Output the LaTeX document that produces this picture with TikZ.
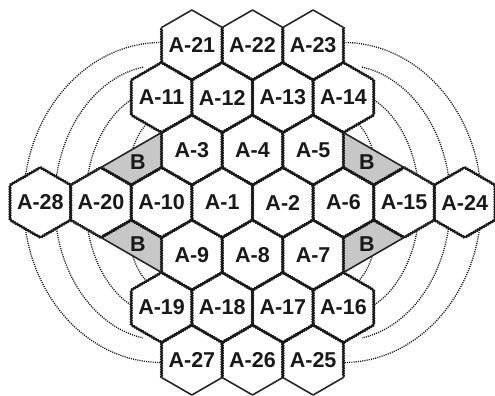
\documentclass[tikz,border=0pt]{standalone}
\usepackage{fontspec}
\setmainfont{Liberation Sans}
\usetikzlibrary{decorations.pathmorphing}
\tikzset{
  zig/.style={draw=black!90, line width=1.7pt, line join=round, decorate,
    decoration={zigzag, segment length=2.5pt, amplitude=0.8pt}},
  plainedge/.style={draw=black!85, line width=1.6pt, line join=round},
  orbit/.style={draw=black!90, line width=1.3pt, dash pattern=on 1.1pt off 1.1pt},
  lab/.style={font=\fontsize{21.5}{21.5}\selectfont\bfseries, inner sep=0pt, text=black!90},
  bfill/.style={fill=black!22},
  hexfill/.pic={\fill[white] (90:35) -- (30:35) -- (-30:35) -- (-90:35) -- (-150:35) -- (150:35) -- cycle;},
  hexline/.pic={\path[zig] (90:35) -- (30:35) -- (-30:35) -- (-90:35) -- (-150:35) -- (150:35) -- cycle;},
  hextop/.pic={\path[zig] (30:35) -- (-30:35) -- (-90:35) -- (-150:35) -- (150:35);
               \path[plainedge] (150:35) -- (90:35) -- (30:35);},
  hexbot/.pic={\path[zig] (-150:35) -- (150:35) -- (90:35) -- (30:35) -- (-30:35);
               \path[plainedge] (-30:35) -- (-90:35) -- (-150:35);},
}
\begin{document}
\begin{tikzpicture}[x=1pt,y=1pt]
\useasboundingbox (-252.5,-193.5) rectangle (242.5,202.5);

% dotted orbits (drawn first, hidden by the cells)
\draw[orbit] (-90.93,0) ++(90:138 and 160) arc[start angle=90, end angle=270, x radius=138, y radius=160];
\draw[orbit] (-90.93,0) ++(100:107 and 137.5) arc[start angle=100, end angle=260, x radius=107, y radius=137.5];
\draw[orbit] (-90.93,0) ++(90:76 and 112) arc[start angle=90, end angle=270, x radius=76, y radius=112];
\draw[orbit] (-90.93,0) ++(90:37 and 86) arc[start angle=90, end angle=270, x radius=37, y radius=86];
\draw[orbit] (90.93,0) ++(90:138 and 160) arc[start angle=90, end angle=-90, x radius=138, y radius=160];
\draw[orbit] (90.93,0) ++(80:107 and 137.5) arc[start angle=80, end angle=-80, x radius=107, y radius=137.5];
\draw[orbit] (90.93,0) ++(90:76 and 112) arc[start angle=90, end angle=-90, x radius=76, y radius=112];
\draw[orbit] (90.93,0) ++(90:37 and 86) arc[start angle=90, end angle=-90, x radius=37, y radius=86];

% cell fills
\foreach \i/\j in {-7/0,-5/0,-3/0,-1/0,1/0,3/0,5/0,7/0,
                   -2/1,0/1,2/1,-3/2,-1/2,1/2,3/2,-2/3,0/3,2/3,
                   -2/-1,0/-1,2/-1,-3/-2,-1/-2,1/-2,3/-2,-2/-3,0/-3,2/-3}
  \pic at (\i*30.31,\j*52.5) {hexfill};

% B regions
\foreach \sx/\sy in {1/1,-1/1,1/-1,-1/-1}{
  \fill[bfill] (\sx*-90.93,\sy*70) -- (\sx*-90.93,\sy*35) -- (\sx*-121.24,\sy*17.5) -- (\sx*-151.55,\sy*35) -- cycle;
}

% cell outlines
\foreach \i/\j in {-7/0,-5/0,-3/0,-1/0,1/0,3/0,5/0,7/0,
                   -2/1,0/1,2/1,-3/2,-1/2,1/2,3/2,
                   -2/-1,0/-1,2/-1,-3/-2,-1/-2,1/-2,3/-2}
  \pic at (\i*30.31,\j*52.5) {hexline};
\foreach \i in {-2,0,2}{
  \pic at (\i*30.31,3*52.5) {hextop};
  \pic at (\i*30.31,-3*52.5) {hexbot};
}
\foreach \sx/\sy in {1/1,-1/1,1/-1,-1/-1}{
  \path[zig] (\sx*-90.93,\sy*35) -- (\sx*-121.24,\sy*17.5) -- (\sx*-151.55,\sy*35);
  \path[plainedge] (\sx*-181.86,\sy*17.5) -- (\sx*-90.93,\sy*70);
}

% labels
\foreach \n/\i/\j/\t in {
   a28/-7/0/A-28, a20/-5/0/A-20, a10/-3/0/A-10, a1/-1/0/A-1, a2/1/0/A-2, a6/3/0/A-6, a15/5/0/A-15, a24/7/0/A-24,
   a3/-2/1/A-3, a4/0/1/A-4, a5/2/1/A-5,
   a11/-3/2/A-11, a12/-1/2/A-12, a13/1/2/A-13, a14/3/2/A-14,
   a21/-2/3/A-21, a22/0/3/A-22, a23/2/3/A-23,
   a9/-2/-1/A-9, a8/0/-1/A-8, a7/2/-1/A-7,
   a19/-3/-2/A-19, a18/-1/-2/A-18, a17/1/-2/A-17, a16/3/-2/A-16,
   a27/-2/-3/A-27, a26/0/-3/A-26, a25/2/-3/A-25}
  \node[lab] (\n) at (\i*30.31,\j*52.5) {\t};
\node[lab] (bnw) at (-114.5,40.5) {B};
\node[lab] (bne) at (114.5,40.5) {B};
\node[lab] (bsw) at (-114.5,-41.5) {B};
\node[lab] (bse) at (114.5,-41.5) {B};
\end{tikzpicture}
\end{document}
